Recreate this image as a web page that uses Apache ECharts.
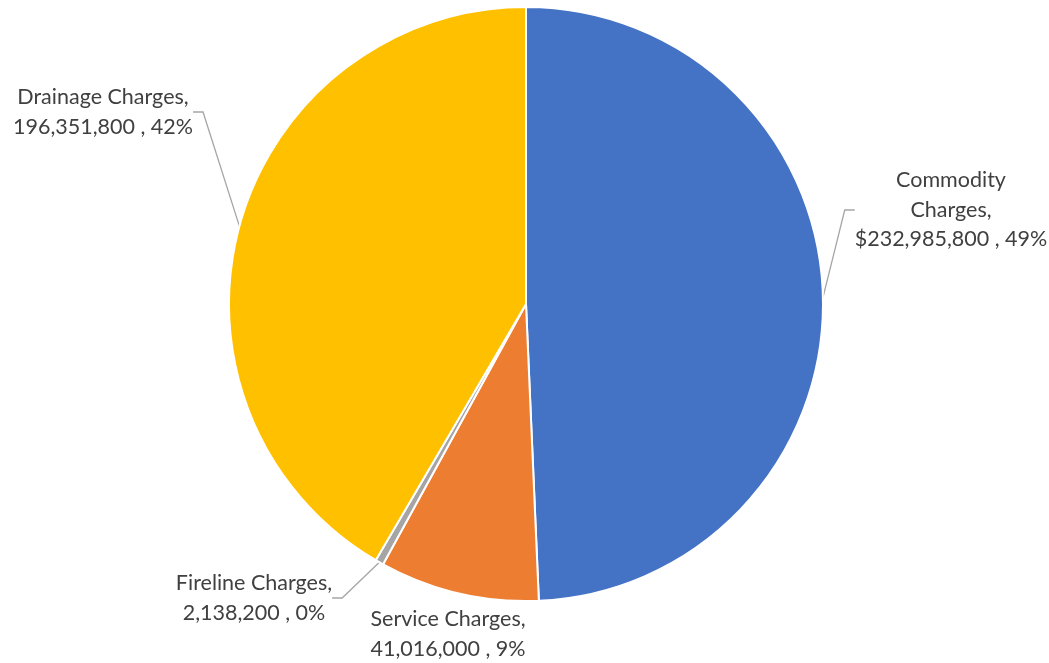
<!DOCTYPE html>
<html>
<head>
<meta charset="utf-8">
<script src="https://cdn.jsdelivr.net/npm/echarts@6/dist/echarts.min.js"></script>
<style>
html,body{margin:0;padding:0;background:#fff;}
#chart{width:1049px;height:663px;}
</style>
</head>
<body>
<div id="chart"></div>
<script>
const categories = ['Commodity Charges', 'Service Charges', 'Fireline Charges', 'Drainage Charges'];
const values = [232985800, 41016000, 2138200, 196351800];
const prefixes = ['$', '', '', ''];
const labelNames = ['Commodity\nCharges,', 'Service Charges,', 'Fireline Charges,', 'Drainage Charges,'];
const colors = ['#4472C4', '#ED7D31', '#A5A5A5', '#FFC000'];

const labelPos = [
  {x: 951, y: 210},
  {x: 448, y: 634},
  {x: 254, y: 598},
  {x: 103, y: 112}
];

function fmt(n){ return n.toLocaleString('en-US'); }

const chart = echarts.init(document.getElementById('chart'), null, {renderer:'canvas'});
chart.setOption({
  backgroundColor: '#fff',
  animation: false,
  series: [{
    type: 'pie',
    center: [526, 304],
    radius: 297,
    startAngle: 90,
    clockwise: true,
    avoidLabelOverlap: false,
    data: categories.map((c, i) => ({
      name: c,
      value: values[i],
      itemStyle: {color: colors[i]},
      labelLine: {show: i !== 1}
    })),
    itemStyle: {borderColor: '#fff', borderWidth: 2},
    label: {
      show: true,
      position: 'outside',
      fontFamily: 'Lato, "Open Sans", sans-serif',
      fontSize: 21.5,
      lineHeight: 29.5,
      color: '#404040',
      align: 'center',
      formatter: p => labelNames[p.dataIndex] + '\n' + prefixes[p.dataIndex] + fmt(p.value) + ' , ' + Math.round(p.percent) + '%'
    },
    labelLine: {
      show: true,
      length: 10,
      length2: 10,
      lineStyle: {color: '#A6A6A6', width: 1.3}
    },
    labelLayout: function (params) {
      const p = labelPos[params.dataIndex];
      return {x: p.x, y: p.y, align: 'center', verticalAlign: 'middle'};
    }
  }]
});
</script>
</body>
</html>
